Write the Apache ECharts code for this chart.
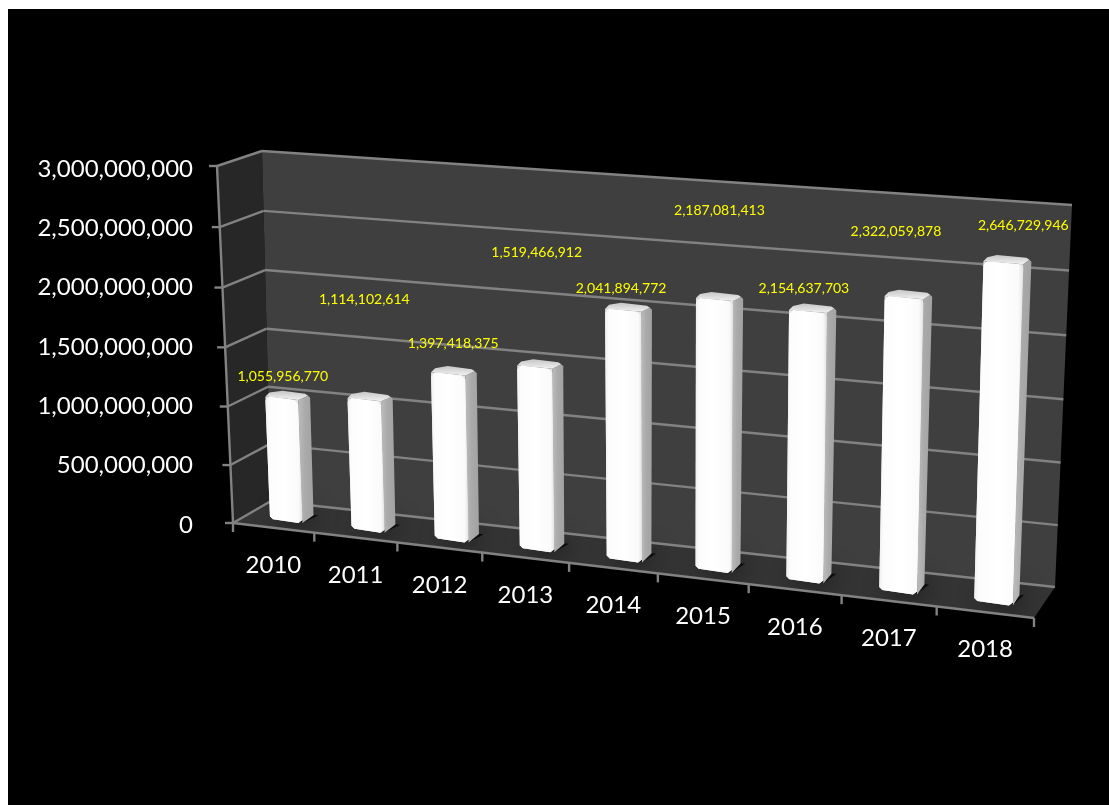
<!DOCTYPE html>
<html>
<head>
<meta charset="utf-8">
<style>html,body{margin:0;padding:0;background:#fff}#chart{width:1109px;height:805px}</style>
<script src="https://cdn.jsdelivr.net/npm/echarts@6/dist/echarts.min.js"></script>
</head>
<body>
<div id="chart"></div>
<script>
// Annual totals, one bar per year
const years = ['2010','2011','2012','2013','2014','2015','2016','2017','2018'];
const totals = [1055956770,1114102614,1397418375,1519466912,2041894772,2187081413,2154637703,2322059878,2646729946];
const axisTicks = [0,500000000,1000000000,1500000000,2000000000,2500000000,3000000000];
// Hand-placed callouts: pixel shift of each value label from the top of its bar
const labelShiftX = [1,0,5,2,-2,5,-4,-8,20];
const labelShiftY = [-22,-100,-30,-115,-22,-89,-23,-66,-37];

const GRID = {left:233, top:169, width:800, height:356};
const FONT = 'Lato';

// Maps the unit square onto a quadrilateral (projective mapping)
function quad(p0,p1,p2,p3){
  const dx1=p1[0]-p2[0],dx2=p3[0]-p2[0],sx=p0[0]-p1[0]+p2[0]-p3[0];
  const dy1=p1[1]-p2[1],dy2=p3[1]-p2[1],sy=p0[1]-p1[1]+p2[1]-p3[1];
  const den=dx1*dy2-dx2*dy1;
  const g=(sx*dy2-dx2*sy)/den,h=(dx1*sy-sx*dy1)/den;
  const a=p1[0]-p0[0]+g*p1[0],b=p3[0]-p0[0]+h*p3[0];
  const d=p1[1]-p0[1]+g*p1[1],e=p3[1]-p0[1]+h*p3[1];
  return (u,v)=>{const w=g*u+h*v+1;return [(a*u+b*v+p0[0])/w,(d*u+e*v+p0[1])/w];};
}
// Front and back planes of the 3D box: bottom-left, bottom-right, top-right, top-left
const frontPlane = quad([233,523],[1034,618],[1045,225],[217,166]);
const backPlane  = quad([271,501],[1055,587],[1072,205],[262,151]);
// u: along the years, v: up the value axis, d: depth from front (0) to back (1)
function project(u,v,d){
  const f=frontPlane(u,v), b=backPlane(u,v);
  return [f[0]+(b[0]-f[0])*d, f[1]+(b[1]-f[1])*d];
}
const toU = px => (px-GRID.left)/GRID.width;
const toV = py => (GRID.top+GRID.height-py)/GRID.height;

const LINE = '#828282';
const lineEl = (a,b,w) => ({type:'line',shape:{x1:a[0],y1:a[1],x2:b[0],y2:b[1]},style:{stroke:LINE,lineWidth:w||2.4}});
const poly = (pts,fill,extra) => ({type:'polygon',shape:{points:pts},style:Object.assign({fill},extra||{})});
const grad = (x2,y2,stops) => new echarts.graphic.LinearGradient(0,0,x2,y2,stops.map(c=>({offset:c[0],color:c[1]})));

const BAR_FRONT = 0.30, BAR_BACK = 0.60, BAR_FILL = 0.40, BAR_SHIFT = 0.002;

function barBox(api){
  const top = api.coord([api.value(0),api.value(1)]);
  const half = api.size([1,0])[0]*BAR_FILL/2;
  return {u0:toU(top[0]-half)+BAR_SHIFT,u1:toU(top[0]+half)+BAR_SHIFT,v:toV(top[1])};
}

function renderPanels(){
  return {type:'group',children:[
    poly([project(0,0,0),project(0,0,1),project(0,1,1),project(0,1,0)],'#272727'),
    poly([project(0,0,1),project(1,0,1),project(1,1,1),project(0,1,1)],'#3f3f3f'),
    poly([project(0,0,0),project(1,0,0),project(1,0,1),project(0,0,1)],'#343434')
  ]};
}
// Soft contact shadow: the footprint stays hidden under the bar, only its blur shows
function renderShadow(params,api){
  const b=barBox(api);
  return poly([project(b.u0+0.006,0,BAR_FRONT+0.04),project(b.u1,0,BAR_FRONT+0.04),project(b.u1+0.004,0,BAR_BACK+0.05),project(b.u0+0.01,0,BAR_BACK+0.05)],'#0c0c0c',
    {shadowBlur:26,shadowColor:'#000000'});
}
function renderGridLine(params,api){
  const y=api.coord([0,api.value(0)])[1], v=toV(y);
  const f=project(0,v,0), b=project(0,v,1), r=project(1,v,1);
  return {type:'group',children:[
    lineEl(b,r), lineEl(f,b), lineEl([f[0]-8,f[1]],f)
  ]};
}
function renderAxes(){
  const kids=[lineEl(project(0,0,0),project(0,1,0)),lineEl(project(0,0,0),project(1,0,0))];
  for(let i=0;i<=years.length;i++){
    const p=project(i/years.length,0,0);
    kids.push(lineEl(p,[p[0],p[1]+9]));
  }
  return {type:'group',children:kids};
}
function renderBar(params,api){
  const b=barBox(api), d0=BAR_FRONT, d1=BAR_BACK;
  const fl=project(b.u0,b.v,d0), fr=project(b.u1,b.v,d0), br=project(b.u1,b.v,d1), bl=project(b.u0,b.v,d1);
  const fl0=project(b.u0,0,d0), fr0=project(b.u1,0,d0), br0=project(b.u1,0,d1);
  const c=4, shoulder=[br[0]-2,br[1]+2];
  const side=poly([
    fr0,[br0[0],br0[1]-1],[br[0],br[1]+c],shoulder,fr
  ],grad(1,0,[[0,'#bcbcbc'],[0.45,'#aaaaaa'],[1,'#a2a2a2']]));
  const topFace=poly([
    fl,fr,shoulder,[br[0]-5,br[1]],[bl[0]+5,bl[1]],[fl[0]+c,fl[1]-4]
  ],grad(0,1,[[0,'#c6c6c6'],[0.75,'#e6e6e6'],[1,'#f2f2f2']]));
  // Bevel backing that shows through the chamfered corners of the front face
  const bevel=poly([[fl[0],fl[1]+c],fl,fr,[fr[0],fr[1]+c],[fr0[0],fr0[1]-3],[fr0[0]-4,fr0[1]],[fl0[0]+3,fl0[1]],[fl0[0],fl0[1]-3]],'#e4e4e4');
  const front=poly([
    [fl[0],fl[1]+c],[fl[0]+c,fl[1]],[fr[0]-c,fr[1]],[fr[0],fr[1]+c],
    [fr0[0],fr0[1]-3],[fr0[0]-4,fr0[1]],[fl0[0]+3,fl0[1]],[fl0[0],fl0[1]-3]
  ],grad(1,0,[[0,'#f0f0f0'],[0.1,'#fcfcfc'],[0.5,'#ffffff'],[0.9,'#fafafa'],[1,'#e2e2e2']]));
  return {type:'group',children:[side,topFace,bevel,front]};
}
function renderValueLabel(params,api){
  const i=api.value(0), b=barBox(api);
  const a=project((b.u0+b.u1)/2,b.v,BAR_FRONT);
  return {type:'text',style:{text:api.value(1).toLocaleString('en-US'),x:a[0]+labelShiftX[i],y:a[1]+labelShiftY[i],
    fill:'#ffff00',fontFamily:FONT,fontSize:14,align:'center',verticalAlign:'middle'}};
}
function renderYear(params,api){
  const i=api.value(0), c=api.coord([i,0]);
  const p=project(toU(c[0]),0,0);
  return {type:'text',style:{text:years[i],x:p[0],y:p[1]+37.5,fill:'#ffffff',fontFamily:FONT,fontSize:24,align:'center',verticalAlign:'middle'}};
}

const barData = totals.map((v,i)=>[i,v]);
const chart = echarts.init(document.getElementById('chart'),null,{renderer:'canvas'});
chart.setOption({
  animation:false,
  backgroundColor:'#ffffff',
  graphic:[{type:'rect',z:-10,silent:true,shape:{x:8,y:9,width:1101,height:796},style:{fill:'#000000'}}],
  grid:Object.assign({},GRID),
  xAxis:{type:'category',data:years,show:false},
  yAxis:{type:'value',min:0,max:3000000000,interval:500000000,
    axisLine:{show:false},axisTick:{show:false},splitLine:{show:false},
    axisLabel:{margin:40,color:'#ffffff',fontFamily:FONT,fontSize:24,
      formatter:v=>v.toLocaleString('en-US')}},
  series:[
    {type:'custom',name:'panels',z:1,silent:true,data:[[0,0]],renderItem:renderPanels},
    {type:'custom',name:'shadows',z:2,silent:true,data:barData,encode:{x:0,y:1},renderItem:renderShadow},
    {type:'custom',name:'gridlines',z:3,silent:true,data:axisTicks.map(v=>[v]),encode:{y:0},renderItem:renderGridLine},
    {type:'custom',name:'axes',z:3,silent:true,data:[[0,0]],renderItem:renderAxes},
    {type:'custom',name:'totals',z:4,data:barData,encode:{x:0,y:1},renderItem:renderBar},
    {type:'custom',name:'years',z:5,silent:true,data:barData,encode:{x:0,y:1},renderItem:renderYear},
    {type:'custom',name:'valueLabels',z:6,silent:true,data:barData,encode:{x:0,y:1},renderItem:renderValueLabel}
  ]
});
</script>
</body>
</html>
